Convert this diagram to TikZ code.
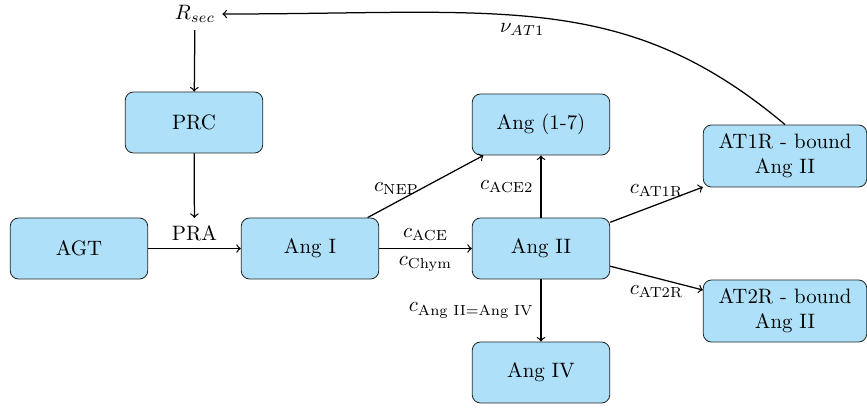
\documentclass[tikz,border=0pt]{standalone}
\usepackage{tikz}
\usepackage{amsmath}
\definecolor{boxblue}{RGB}{174,225,249}

\begin{document}
\begin{tikzpicture}[x=0.48pt,y=0.48pt]
    \tikzstyle{species}=[rectangle,draw=black!85,fill=boxblue,rounded corners=4pt,minimum width=66pt,minimum height=29.3pt]
    \tikzstyle{bound}=[species,align=center,minimum width=78.5pt,minimum height=29.8pt]
    \tikzstyle{flow}=[->,semithick]
    \useasboundingbox (0,0) rectangle (867,407);
    \node (Rsec) at (195,393) {\(R_{sec}\)};
    \node (PRC) at (194,284.5) [species] {PRC};
    \node (AGT) at (79,158.5) [species] {AGT};
    \node (AngI) at (310,158.5) [species] {Ang I};
    \node (AngII) at (541,158.5) [species] {Ang II};
    \node (Ang17) at (541,282.5) [species] {Ang (1-7)};
    \node (AngIV) at (541,34.5) [species] {Ang IV};
    \node (AT1R) at (785,251) [bound] {AT1R - bound\\Ang II};
    \node (AT2R) at (785,96) [bound] {AT2R - bound\\Ang II};
    \draw [flow] (Rsec) -- (PRC);
    \draw [flow] (AGT) -- node[above] (PRA) {PRA} (AngI);
    \draw [flow] (PRC) -- (PRA);
    \draw [flow] (AngI) -- node[above] {\(c_{\text{ACE}}\)} node[below] {\(c_{\text{Chym}}\)} (AngII);
    \draw [flow] (AngI) -- node[pos=0.25,above] {\(c_{\text{NEP}}\)} (Ang17);
    \draw [flow] (AngII) -- node[left] {\(c_{\text{ACE2}}\)} (Ang17);
    \draw [flow] (AngII) -- node[left] {\(c_{\text{Ang II=Ang IV}}\)} (AngIV);
    \draw [flow] (AngII) -- node[above] {\(c_{\text{AT1R}}\)} (AT1R);
    \draw [flow] (AngII) -- node[below] {\(c_{\text{AT2R}}\)} (AT2R);
    \draw [flow] (AT1R.north) .. controls +(-160.9,135) and +(280,0) .. node[pos=0.55,below] {\(\nu_{AT1}\)} (Rsec.east);
\end{tikzpicture}
\end{document}
